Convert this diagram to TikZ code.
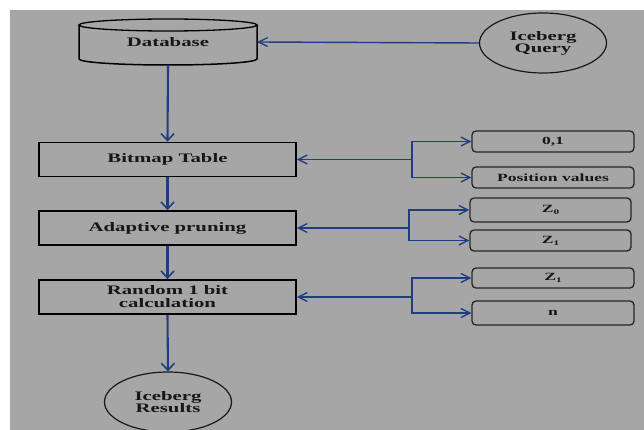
\documentclass[tikz,border=0pt]{standalone}
\usepackage{fontspec}
\usetikzlibrary{arrows.meta,shapes.geometric}
\newfontfamily\wf[FakeStretch=1.6]{Liberation Serif}
\definecolor{bggray}{RGB}{166,166,166}
\definecolor{lineblue}{RGB}{30,62,128}
\definecolor{txt}{RGB}{25,22,20}
\begin{document}
\begin{tikzpicture}[x=1pt,y=-1pt,
  every node/.style={font=\wf\bfseries\fontsize{13}{14}\selectfont, text=txt, inner sep=0pt},
  mainbox/.style={draw=black, line width=1.7pt, minimum width=257pt, minimum height=34pt, align=center},
  smallbox/.style={draw=black!85, line width=1.3pt, rounded corners=4pt, minimum width=162pt, font=\wf\bfseries\fontsize{11}{12}\selectfont},
  oval/.style={draw=black!90, line width=1.2pt, ellipse, minimum width=127pt, minimum height=60pt, align=center},
  flow/.style={draw=lineblue, line width=2.1pt, -{Straight Barb[length=7pt,width=13pt,line width=1.6pt]}},
  feed/.style={draw=lineblue, line width=1.4pt, -{Straight Barb[length=9pt,width=9pt,line width=1.3pt]}}
]
\useasboundingbox (0,0) rectangle (644,430);
\fill[white] (0,0) rectangle (644,430);
\fill[bggray] (10,10) rectangle (644,430);

% database cylinder
\node[minimum width=178pt, minimum height=46pt] (db) at (168,42) {Database};
\draw[black, line width=1.5pt] (79,25) -- (79,59) arc[start angle=180, end angle=360, x radius=89pt, y radius=6pt] -- (257,25);
\draw[black, line width=1.3pt] (168,25) ellipse [x radius=89pt, y radius=6pt];

\node[oval] (iq) at (543,43) {Iceberg\\[-2pt]Query};

\node[mainbox] (bt) at (167.5,159.5) {Bitmap Table};
\node[mainbox] (ap) at (167.5,228) {Adaptive pruning};
\node[mainbox] (rc) at (167.5,297) {Random 1 bit\\[-1pt]calculation};
\node[oval] (ir) at (168,402) {Iceberg\\[-2pt]Results};

\node[smallbox, minimum height=21pt] (b01) at (553,141.5) {0,1};
\node[smallbox, minimum height=21pt] (bpv) at (553,177.5) {Position values};
\node[smallbox, minimum height=24pt, minimum width=161pt] (bz0) at (550.5,210) {Z\raisebox{-2pt}{\fontsize{7}{8}\selectfont 0}};
\node[smallbox, minimum height=21pt, minimum width=161pt] (bz1) at (550.5,240.5) {Z\raisebox{-2pt}{\fontsize{7}{8}\selectfont 1}};
\node[smallbox, minimum height=20pt] (bz1b) at (553,278) {Z\raisebox{-2pt}{\fontsize{7}{8}\selectfont 1}};
\node[smallbox, minimum height=24pt] (bn) at (553,313) {n};

% main flow
\draw[feed] (iq.west) -- (db.east);
\draw[flow] (db.south) -- (bt.north);
\draw[flow] (bt.south) -- (ap.north);
\draw[flow] (ap.south) -- (rc.north);
\draw[flow] (rc.south) -- (ir.north);

% brackets
\coordinate (k1) at (412,159.5);
\coordinate (k2) at (409,228);
\coordinate (k3) at (412,297);
\draw[feed] (k1) -- (bt.east);
\draw[feed] (k1) |- (b01.west);
\draw[feed] (k1) |- (bpv.west);
\draw[feed] (k2) -- (ap.east);
\draw[feed] (k2) |- (bz0.west);
\draw[feed] (k2) |- (bz1.west);
\draw[feed] (k3) -- (rc.east);
\draw[feed] (k3) |- (bz1b.west);
\draw[feed] (k3) |- (bn.west);
\end{tikzpicture}
\end{document}
